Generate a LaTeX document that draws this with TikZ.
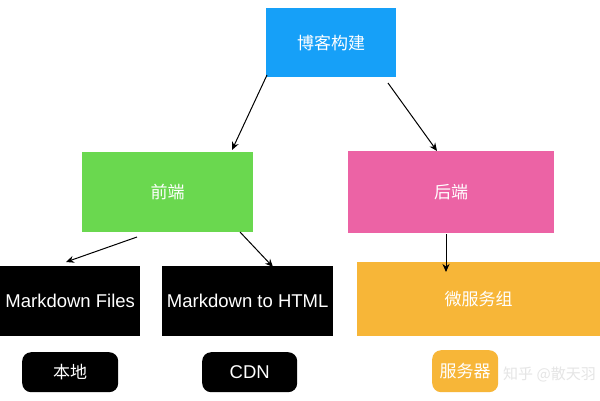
\documentclass[tikz,border=0pt]{standalone}
\usepackage{fontspec}
\setmainfont{Liberation Sans}
\newfontfamily\cjk{Noto Sans CJK SC}
\usetikzlibrary{arrows.meta}
\definecolor{cblue}{RGB}{22,160,248}
\definecolor{cgreen}{RGB}{106,216,79}
\definecolor{cpink}{RGB}{236,99,165}
\definecolor{corange}{RGB}{247,182,56}
\begin{document}
\begin{tikzpicture}[x=1pt,y=-1pt,
  box/.style={draw=none,anchor=north west,inner sep=0pt,text=white,align=center},
  zh/.style={font=\cjk\fontsize{17}{20}\selectfont},
  en/.style={font=\fontsize{18.5}{22}\selectfont},
  arr/.style={-{Stealth[length=8pt,width=7pt]},line width=1pt,black}]
\useasboundingbox (0,0) rectangle (600,400);
\fill[white] (0,0) rectangle (600,400);
\node[box,zh,fill=cblue,minimum width=130pt,minimum height=69pt] (root) at (266,8) {博客构建};
\node[box,zh,fill=cgreen,minimum width=171pt,minimum height=80pt] (fe) at (82,152) {前端};
\node[box,zh,fill=cpink,minimum width=206pt,minimum height=82pt] (be) at (348,151) {后端};
\node[box,en,fill=black,minimum width=140pt,minimum height=70pt] (mdf) at (0,266) {Markdown Files};
\node[box,en,fill=black,minimum width=171pt,minimum height=70pt] (mdh) at (162,266) {Markdown to HTML};
\node[box,zh,fill=corange,minimum width=243pt,minimum height=74pt] (ms) at (357,262) {微服务组};
\node[box,zh,fill=black,rounded corners=9pt,minimum width=96pt,minimum height=40pt] (local) at (22,352) {本地};
\node[box,en,fill=black,rounded corners=9pt,minimum width=95pt,minimum height=40pt] (cdn) at (202,352) {CDN};
\node[box,zh,fill=corange,rounded corners=9pt,minimum width=66pt,minimum height=42pt] (srv) at (432,350) {服务器};
\node[anchor=west,inner sep=0pt,font=\cjk\fontsize{15}{18}\selectfont,text=white!80!gray] (wm) at (503,374) {知乎 @散天羽};
\coordinate (a1s) at (267,75); \coordinate (a1e) at (232,150);
\coordinate (a2s) at (388,83); \coordinate (a2e) at (437,151);
\coordinate (a3s) at (137,237); \coordinate (a3e) at (66,262);
\coordinate (a4s) at (240,232); \coordinate (a4e) at (273,267);
\coordinate (a5s) at (446,234); \coordinate (a5e) at (446,272);
\draw[arr] (a1s) -- (a1e);
\draw[arr] (a2s) -- (a2e);
\draw[arr] (a3s) -- (a3e);
\draw[arr] (a4s) -- (a4e);
\draw[arr] (a5s) -- (a5e);
\end{tikzpicture}
\end{document}
